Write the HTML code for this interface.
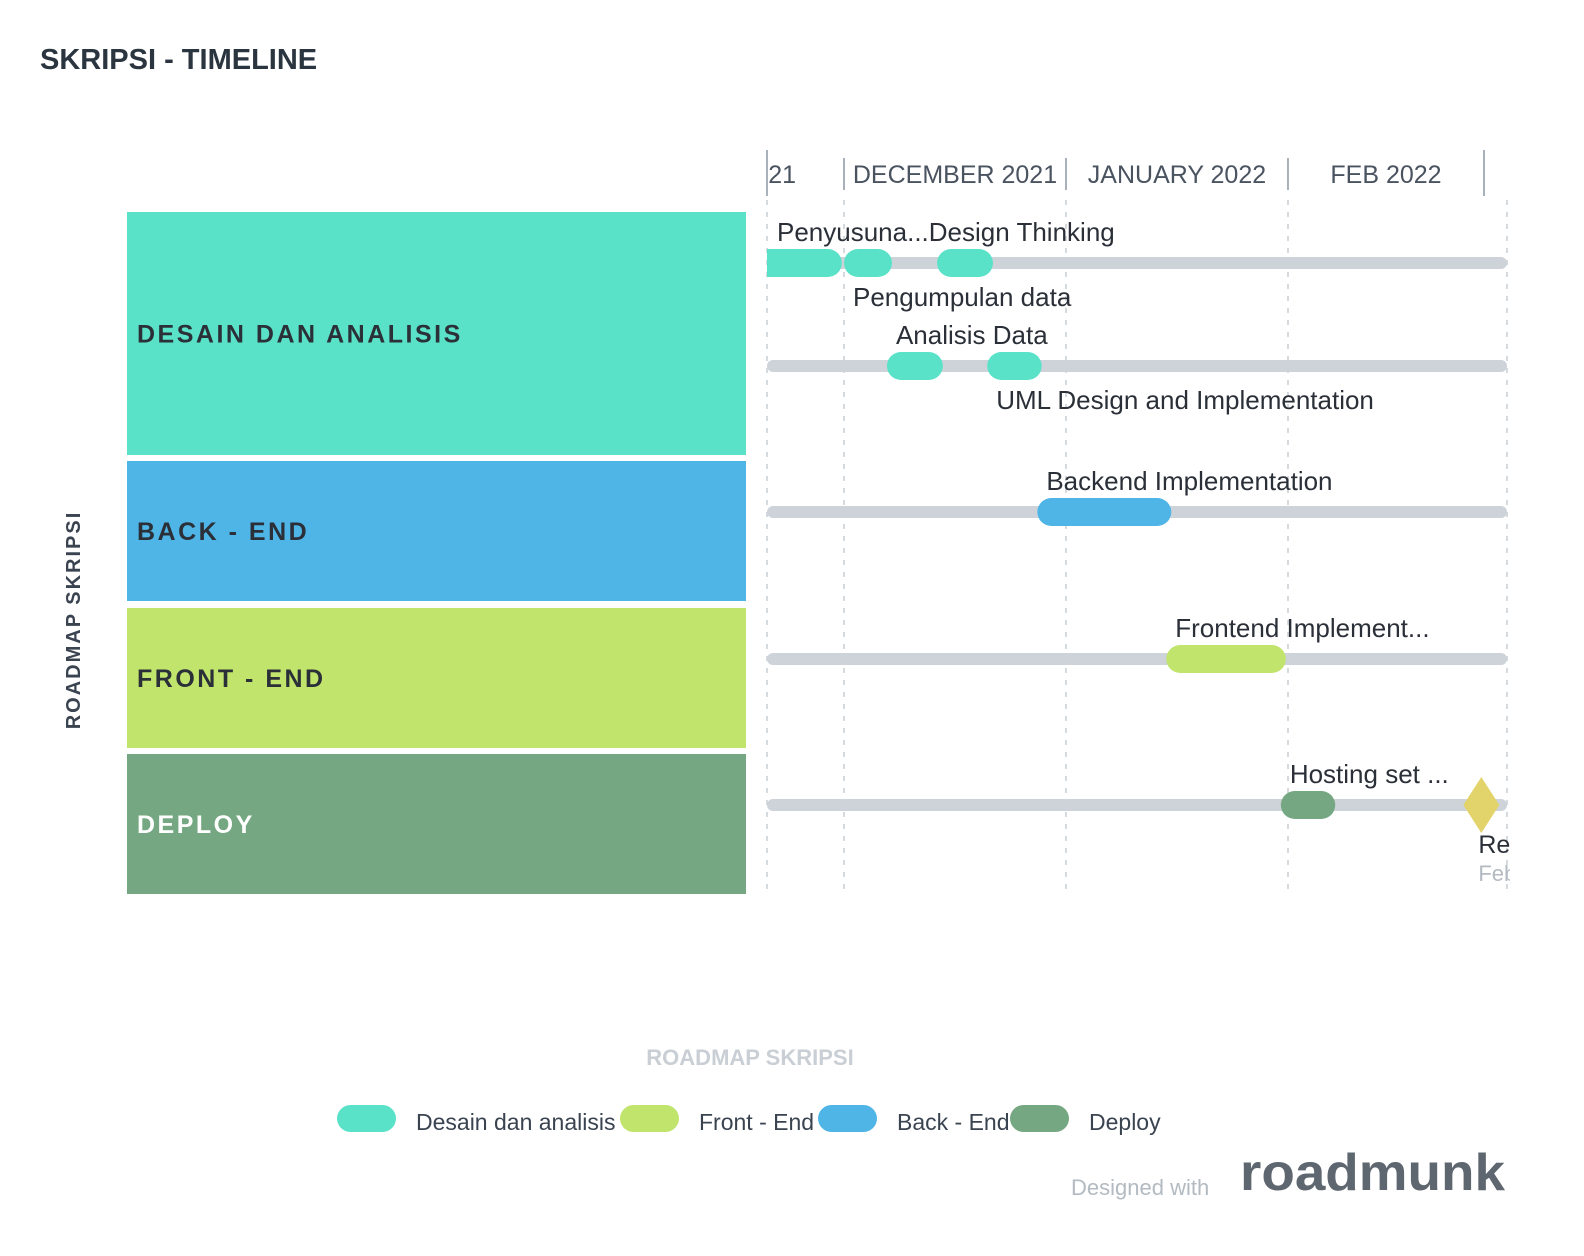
<!DOCTYPE html>
<html><head><meta charset="utf-8"><style>
body{margin:0;background:#fff;}
svg{display:block;font-family:"Liberation Sans",sans-serif;}
</style></head><body>
<svg id="chart" width="1584" height="1256" viewBox="0 0 1584 1256">
<text x="40" y="69" font-size="29" font-weight="bold" fill="#2b3540">SKRIPSI - TIMELINE</text>
<text transform="translate(80,620) rotate(-90)" text-anchor="middle" font-size="20" font-weight="bold" letter-spacing="2" fill="#3a4350">ROADMAP SKRIPSI</text>
<g id="lanes"></g>
<g id="axis"></g>
<g id="rows"></g>
<text x="750" y="1065" text-anchor="middle" font-size="22" font-weight="bold" fill="#c9cfd5">ROADMAP SKRIPSI</text>
<g id="legend"></g>
<text x="1071" y="1195" font-size="22" fill="#b3bac1">Designed with</text>
<text x="1240" y="1190" font-size="52" font-weight="bold" fill="#5e6770" textLength="265" lengthAdjust="spacingAndGlyphs">roadmunk</text>
</svg>
<script>
const NS='http://www.w3.org/2000/svg';
const monthLabels=['NOVEMBER 2021','DECEMBER 2021','JANUARY 2022','FEB 2022'];
const monthStarts=[-30,0,31,62];
const laneNames=['DESAIN DAN ANALISIS','BACK - END','FRONT - END','DEPLOY'];
const laneColors=['#5ae2c8','#4fb5e6','#c0e46c','#75a882'];
const barRow=[0,0,0,1,1,2,3,4];
const barStart=[-14,0,13,6,20,27,45,61];
const barEnd=[-0.3,6.7,20.8,13.8,27.6,45.7,61.7,68.6];
const barLane=[0,0,0,0,0,1,2,3];
const barLabels=['Penyusuna...Design Thinking','Pengumpulan data','','Analisis Data','UML Design and Implementation','Backend Implementation','Frontend Implement...','Hosting set ...'];
const milestoneDay=[89];
const legendNames=['Desain dan analisis','Front - End','Back - End','Deploy'];
const legendColors=['#5ae2c8','#c0e46c','#4fb5e6','#75a882'];

const X0=767,X1=1507,DAY0X=844,PXD=7.161;
const x=d=>DAY0X+d*PXD;
const rowY=[263,366,512,659,805];
const labelDy=[-22,43,-22,-22,43,-22,-22,-22];
const laneY=[[212,455],[461,601],[608,748],[754,894]];
function el(tag,attrs,parent,text){const e=document.createElementNS(NS,tag);for(const k in attrs)e.setAttribute(k,attrs[k]);if(text!=null)e.textContent=text;parent.appendChild(e);return e;}
const lanes=document.getElementById('lanes');
laneNames.forEach((n,i)=>{
  const r=el('rect',{x:127,y:laneY[i][0],width:619,height:laneY[i][1]-laneY[i][0],fill:laneColors[i]},lanes);
  
  
  const t=el('text',{x:137,y:(laneY[i][0]+laneY[i][1])/2+9,'font-size':25,'font-weight':'bold','letter-spacing':2.5,fill:i==3?'#ffffff':'#2b3038'},lanes,n);
  
  
});
const axis=document.getElementById('axis');
const cp=el('clipPath',{id:'cp'},axis);el('rect',{x:X0,y:0,width:X1-X0+10,height:1256},cp);
const ag=el('g',{'clip-path':'url(#cp)'},axis);
monthLabels.forEach((m,i)=>{
  const a=x(monthStarts[i]),b=i<monthLabels.length-1?x(monthStarts[i+1]):1484;
  const t=el('text',{x:i==0?b-48:(a+b)/2,y:183,'text-anchor':i==0?'end':'middle','font-size':25,fill:'#4a5360'},ag,m);
  
  
  if(i>0){const l=el('line',{x1:a,x2:a,y1:158,y2:190,stroke:'#a9b2bb','stroke-width':2},axis);
  
  }
});
el('line',{x1:X0,x2:X0,y1:150,y2:196,stroke:'#a9b2bb','stroke-width':2},axis);
el('line',{x1:1484,x2:1484,y1:150,y2:196,stroke:'#a9b2bb','stroke-width':2},axis);
[X0,x(0),x(31),x(62),X1].forEach(gx=>{
  const g=el('line',{x1:gx,x2:gx,y1:200,y2:895,stroke:'#d5dadf','stroke-width':2,'stroke-dasharray':'5,7'},axis);
  
  
});
const rows=document.getElementById('rows');
rowY.forEach(y=>{
  const l=el('line',{x1:X0+6,x2:X1-6,y1:y,y2:y,stroke:'#cdd3d9','stroke-width':12,'stroke-linecap':'round'},rows);
  
  
});
const bg=el('g',{'clip-path':'url(#cp)'},rows);
barStart.forEach((s,i)=>{
  const a=x(s),b=x(barEnd[i]),y=rowY[barRow[i]];
  const r=el('rect',{x:a,y:y-14,width:b-a,height:28,rx:14,fill:laneColors[barLane[i]]},bg);
  
  
  if(barLabels[i]){
    const t=el('text',{x:Math.max(X0+10,a+9),y:y+labelDy[i],'font-size':26,fill:'#2b3038'},rows,barLabels[i]);
    
    
  }
});
milestoneDay.forEach(d=>{
  const cx=x(d),y=rowY[4];
  const p=el('polygon',{points:`${cx},${y-28} ${cx+18},${y} ${cx},${y+28} ${cx-18},${y}`,fill:'#e2d46a'},rows);
  
  
  const cl=el('clipPath',{id:'cp2'},rows);el('rect',{x:0,y:0,width:X1+3,height:1256},cl);
  const g2=el('g',{'clip-path':'url(#cp2)'},rows);
  const t=el('text',{x:cx-3,y:y+48,'font-size':25,fill:'#2b3038'},g2,'Release');
  
  
  const t2=el('text',{x:cx-3,y:y+76,'font-size':22,fill:'#b3bac1'},g2,'Feb');
  
  
});
const lg=document.getElementById('legend');
const lx=[337,620,818,1010];
legendNames.forEach((n,i)=>{
  const r=el('rect',{x:lx[i],y:1105,width:59,height:27,rx:13.5,fill:legendColors[i]},lg);
  
  
  const t=el('text',{x:lx[i]+79,y:1130,'font-size':23,fill:'#3a4350'},lg,n);
  
  
});
</script>
</body></html>
